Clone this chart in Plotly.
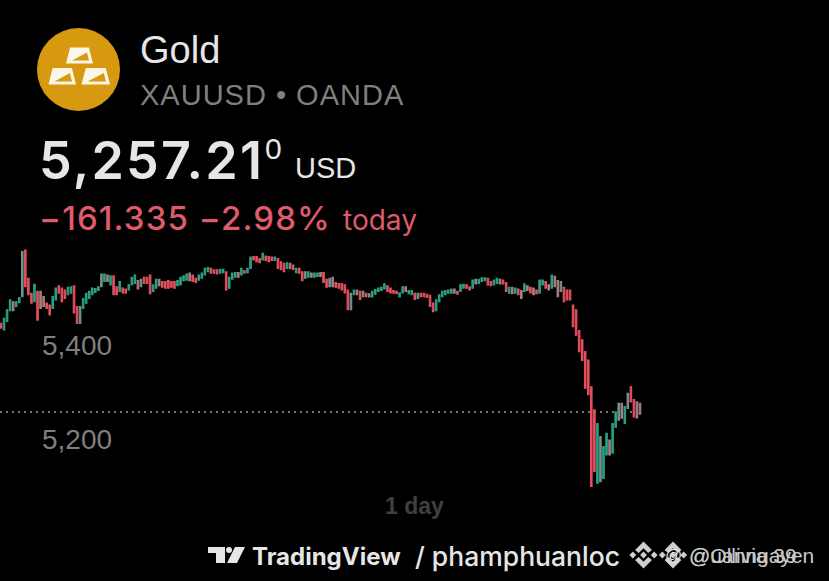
import plotly.graph_objects as go

W, H = 829, 581

price_ticks = [5200, 5400]
price_tick_labels = ["5,200", "5,400"]
last_price = 5257.21

opens = [
    5446, 5432, 5450, 5473, 5492, 5482, 5490, 5503, 5602, 5542,
    5510, 5492, 5514, 5514, 5503, 5489, 5485, 5478, 5496, 5526,
    5521, 5517, 5507, 5510, 5526, 5482, 5446, 5478, 5489, 5499,
    5507, 5512, 5516, 5524, 5535, 5549, 5528, 5547, 5524, 5514,
    5521, 5519, 5517, 5528, 5531, 5537, 5524, 5544, 5544, 5549,
    5514, 5521, 5540, 5535, 5535, 5537, 5535, 5535, 5526, 5528,
    5537, 5538, 5553, 5549, 5542, 5538, 5542, 5549, 5556, 5563,
    5560, 5560, 5553, 5554, 5556, 5521, 5540, 5544, 5554, 5549,
    5558, 5554, 5563, 5588, 5588, 5584, 5581, 5589, 5588, 5587,
    5580, 5584, 5577, 5574, 5563, 5574, 5570, 5554, 5563, 5556,
    5542, 5544, 5553, 5544, 5546, 5554, 5554, 5540, 5524, 5544,
    5533, 5531, 5531, 5528, 5517, 5475, 5507, 5517, 5514, 5503,
    5510, 5509, 5502, 5508, 5514, 5516, 5519, 5526, 5521, 5516,
    5514, 5502, 5511, 5524, 5509, 5507, 5510, 5499, 5510, 5510,
    5508, 5506, 5489, 5473, 5492, 5503, 5507, 5510, 5510, 5519,
    5514, 5514, 5521, 5528, 5524, 5521, 5530, 5531, 5535, 5537,
    5542, 5535, 5528, 5531, 5540, 5538, 5533, 5510, 5523, 5510,
    5519, 5516, 5514, 5526, 5523, 5521, 5517, 5510, 5528, 5535,
    5528, 5521, 5546, 5537, 5514, 5523, 5517, 5517, 5485, 5475,
    5431, 5411, 5386, 5368, 5311, 5262, 5106, 5109, 5116, 5166,
    5198, 5170, 5225, 5240, 5276, 5233, 5265, 5311, 5284, 5279,
    5276,
]
closes = [
    5436, 5457, 5475, 5496, 5473, 5492, 5501, 5599, 5524, 5507,
    5489, 5529, 5453, 5478, 5482, 5478, 5464, 5503, 5521, 5510,
    5492, 5499, 5523, 5524, 5468, 5446, 5482, 5499, 5510, 5514,
    5521, 5520, 5524, 5551, 5551, 5535, 5547, 5507, 5507, 5535,
    5511, 5510, 5528, 5544, 5549, 5519, 5540, 5531, 5531, 5509,
    5528, 5540, 5526, 5523, 5521, 5521, 5523, 5521, 5537, 5544,
    5547, 5551, 5537, 5535, 5533, 5549, 5553, 5563, 5565, 5553,
    5553, 5551, 5561, 5561, 5517, 5544, 5553, 5554, 5544, 5563,
    5553, 5563, 5587, 5581, 5577, 5575, 5595, 5580, 5577, 5580,
    5587, 5563, 5560, 5556, 5575, 5563, 5561, 5563, 5553, 5537,
    5556, 5556, 5544, 5553, 5553, 5546, 5533, 5523, 5542, 5524,
    5523, 5521, 5517, 5511, 5475, 5510, 5517, 5507, 5497, 5514,
    5503, 5502, 5514, 5518, 5521, 5523, 5530, 5514, 5511, 5510,
    5509, 5511, 5524, 5514, 5516, 5516, 5497, 5510, 5503, 5503,
    5501, 5482, 5471, 5496, 5507, 5514, 5516, 5517, 5519, 5510,
    5508, 5528, 5529, 5521, 5517, 5538, 5540, 5540, 5543, 5543,
    5528, 5526, 5538, 5542, 5530, 5530, 5514, 5523, 5509, 5521,
    5507, 5499, 5530, 5516, 5511, 5507, 5509, 5538, 5538, 5521,
    5517, 5549, 5524, 5503, 5535, 5492, 5496, 5496, 5439, 5421,
    5386, 5367, 5308, 5294, 5099, 5131, 5233, 5205, 5184, 5212,
    5166, 5233, 5258, 5276, 5244, 5269, 5297, 5279, 5247, 5245,
    5253,
]
muted_candles = [4, 7, 13, 14, 26, 33, 35, 45, 46, 52, 62, 78, 95, 100, 102, 105,
                 108, 109, 115, 117, 119, 121, 133, 137, 149, 156, 164, 168, 171,
                 173, 175, 180, 182, 183, 184, 197, 200, 203, 204, 206, 209, 210]

BG = "#000000"
GREEN, RED = "#2c9f84", "#e4505f"
GREEN_M, RED_M = "#71938a", "#a57f83"
TXT = "#e6e6e6"
GREY = "#7f7f7f"
PINK = "#df5a6b"
GOLD = "#d6990f"

N = len(opens)
candles = list(range(N))
highs = [max(o, c) for o, c in zip(opens, closes)]
lows = [min(o, c) for o, c in zip(opens, closes)]


def pick(values, keep):
    return [values[i] for i in candles if (i in muted_candles) == keep]


fig = go.Figure()
for keep, up, down in ((False, GREEN, RED), (True, GREEN_M, RED_M)):
    fig.add_trace(go.Candlestick(
        x=pick(candles, keep), open=pick(opens, keep), high=pick(highs, keep),
        low=pick(lows, keep), close=pick(closes, keep),
        increasing=dict(line=dict(color=up, width=1.1), fillcolor=up),
        decreasing=dict(line=dict(color=down, width=1.1), fillcolor=down),
        hoverinfo="skip", showlegend=False))

# axis scales: 5,400 sits at pixel 345 and 5,200 at pixel 439; candle 0 at pixel 1, last at 640
unit = 94 / 200
step = 639 / (N - 1)
y_top = 5200 + 439 / unit
y_bottom = 5200 - (H - 439) / unit
x_left = -1 / step
x_right = (W - 1) / step


def px(x):
    return x / W


def py(y):
    return 1 - y / H


def poly(points, color):
    d = "M" + " L".join(f"{px(x):.5f},{py(y):.5f}" for x, y in points) + " Z"
    return dict(type="path", xref="paper", yref="paper", path=d,
                fillcolor=color, line=dict(width=0), layer="above")


shapes = [
    dict(type="line", xref="paper", yref="y", x0=0, x1=px(640), y0=last_price, y1=last_price,
         line=dict(color="#9a9a9a", width=1.5, dash="2px,4px"), layer="below"),
    dict(type="circle", xref="paper", yref="paper", x0=px(37), x1=px(120), y0=py(111), y1=py(28),
         fillcolor=GOLD, line=dict(width=0)),
]


def bar(x0, x1, y0, y1):
    """one gold ingot of the logo, in page pixels"""
    inset = (x1 - x0) * 0.15
    out = [poly([(x0, y1), (x0 + inset, y0), (x1 - inset, y0), (x1, y1)], "#fbf6e8")]
    out.append(poly([(x0 + 6, y1 - 3), (x1 - inset - 2, y0 + 5), (x1 - 4, y1 - 3)], GOLD))
    return out


shapes += bar(66, 93, 47.5, 63.5) + bar(48.5, 76, 68, 84.5) + bar(81.5, 110, 68, 84.5)

# TradingView mark
shapes += [
    poly([(208, 547), (225, 547), (225, 563), (216, 563), (216, 553), (208, 553)], TXT),
    poly([(235, 547), (245, 547), (237, 563), (227, 563)], TXT),
    dict(type="circle", xref="paper", yref="paper", x0=px(226), x1=px(232), y0=py(553), y1=py(547),
         fillcolor=TXT, line=dict(width=0)),
]


def binance(cx, cy, r, color):
    s = r / 12
    def t(pts):
        return [(cx + a * s, cy + b * s) for a, b in pts]
    return [
        poly(t([(0, -12), (7.5, -4.5), (4.2, -1.8), (0, -6), (-4.2, -1.8), (-7.5, -4.5)]), color),
        poly(t([(0, 12), (7.5, 4.5), (4.2, 1.8), (0, 6), (-4.2, 1.8), (-7.5, 4.5)]), color),
        poly(t([(-12.5, 0), (-9.5, -3), (-6.5, 0), (-9.5, 3)]), color),
        poly(t([(12.5, 0), (9.5, -3), (6.5, 0), (9.5, 3)]), color),
        poly(t([(0, -3), (3, 0), (0, 3), (-3, 0)]), color),
    ]


shapes += binance(643.5, 555, 13.5, "#cfcfcf") + binance(673, 555, 13.5, "#cfcfcf")


def label(x, y, text, size, color, font="Liberation Sans", anchor="left", weight=400):
    return dict(xref="paper", yref="paper", x=px(x), y=py(y), text=text, showarrow=False,
                xanchor=anchor, yanchor="middle", align="left",
                font=dict(family=font, size=size, color=color, weight=weight))


annotations = [
    label(138, 50, "Gold", 38, TXT),
    label(138, 95, "XAUUSD • OANDA", 29, GREY),
    label(37, 160, "5,257.21", 52, TXT, font="Inter", weight=600),
    label(263, 148, "0", 30, TXT),
    label(293, 168, "USD", 29, TXT),
    label(37, 218, "−161.335 −2.98%", 33, PINK, font="Inter", weight=500),
    label(341, 220, "today", 28, PINK, font="Inter"),
    label(414, 506, "1 day", 23, "#3f3f3f", anchor="center", weight=700),
    label(250, 556, "TradingView", 24, TXT, font="Inter", weight=700),
    label(413, 556, "/ phamphuanloc", 26.5, TXT, font="Inter", weight=500),
    label(673, 555, "@", 17, "#e0e0e0", anchor="center"),
    label(687, 555, "@Ollivia 39", 21, "#c8c8c8"),
    label(687, 555, "@uanngayen", 21, "#c8c8c8"),
]

fig.update_layout(
    width=W, height=H, autosize=False,
    margin=dict(l=0, r=0, t=0, b=0),
    paper_bgcolor=BG, plot_bgcolor=BG,
    showlegend=False, shapes=shapes, annotations=annotations,
    xaxis=dict(range=[x_left, x_right], visible=False, rangeslider=dict(visible=False), fixedrange=True),
    yaxis=dict(range=[y_bottom, y_top], tickmode="array", tickvals=price_ticks, ticktext=price_tick_labels,
               showgrid=False, zeroline=False, showline=False, ticks="", fixedrange=True,
               ticklabelposition="inside", ticklabelstandoff=39,
               tickfont=dict(family="Liberation Sans", size=28, color=GREY)),
)

page_script = """
document.body.style.margin = '0';
document.body.style.background = '#000';
var spacing = {'5,257.21': '2.2px', '\\u2212161.335 \\u22122.98%': '1.1px', 'XAUUSD \\u2022 OANDA': '1px'};
document.querySelectorAll('.annotation-text').forEach(function (t) {
    var v = spacing[t.textContent];
    if (v) { t.style.letterSpacing = v; }
});
"""
fig.write_html("out.html", config=dict(displayModeBar=False), post_script=page_script)
